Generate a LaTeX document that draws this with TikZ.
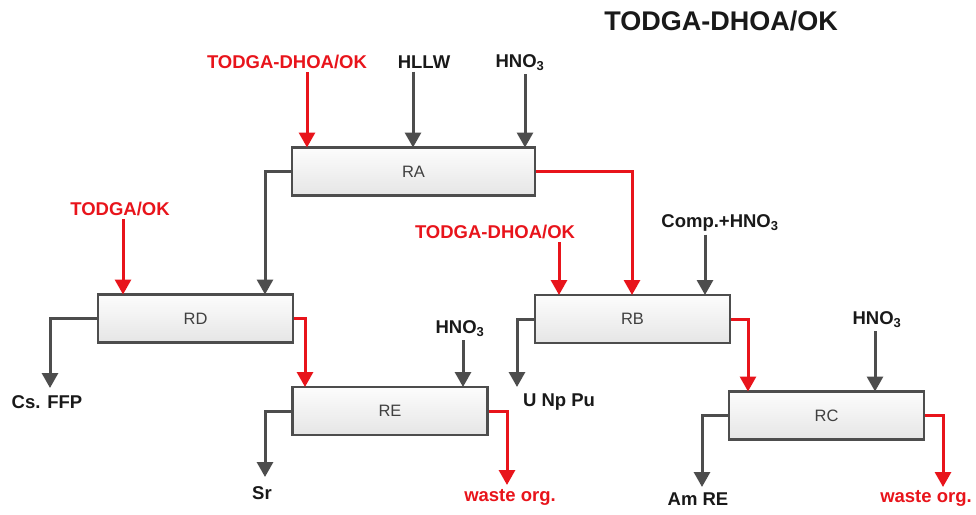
\documentclass[tikz,border=0pt]{standalone}
\usepackage{fontspec}
\setmainfont{Liberation Sans}
\usetikzlibrary{arrows.meta}

\definecolor{sotet}{HTML}{4D4D4D}
\definecolor{piros}{HTML}{E8141B}
\newcommand{\hno}{HNO\textsubscript{3}}

\tikzset{
  reactor/.style={draw=sotet, line width=2.8pt, top color=gray!2, bottom color=gray!20,
    minimum width=195pt, minimum height=48pt, font=\fontsize{16.5}{17}\selectfont, text=black!75},
  feed/.style={draw=sotet, line width=3pt, -{Triangle[length=15pt,width=16pt]}},
  feedred/.style={feed, draw=piros},
  lab/.style={font=\bfseries\fontsize{18.5}{20}\selectfont, text=black!90, inner sep=3pt},
  labred/.style={lab, text=piros}
}

\begin{document}
\begin{tikzpicture}[x=1pt,y=-1pt]
\useasboundingbox (0,0) rectangle (976,514);

% cim
\node[lab, font=\bfseries\fontsize{27}{30}\selectfont] (title) at (721,21) {TODGA-DHOA/OK};

% dobozok
\node[reactor, minimum width=243pt] (RA) at (413.5,171.5) {RA};
\node[reactor] (RD) at (195.5,318.5) {RD};
\node[reactor] (RE) at (390,411) {RE};
\node[reactor] (RB) at (632.5,319) {RB};
\node[reactor] (RC) at (826.5,415.5) {RC};

% bemenetek
\node[labred] (fRA1) at (287,62) {TODGA-DHOA/OK};
\node[lab] (fRA2) at (424,62) {HLLW};
\node[lab] (fRA3) at (520,63) {\hno};
\node[labred] (fRD) at (120,209) {TODGA/OK};
\node[lab] (fRE) at (460,329) {\hno};
\node[labred] (fRB1) at (495,232) {TODGA-DHOA/OK};
\node[lab] (fRB2) at (720,223) {Comp.+\hno};
\node[lab] (fRC) at (877,320) {\hno};

\coordinate (RA1) at (307,147.5);
\coordinate (RA2) at (413,147.5);
\coordinate (RA3) at (525,147.5);
\coordinate (RD1) at (123,294.5);
\coordinate (RD2) at (265,294.5);
\coordinate (RE1) at (305,387);
\coordinate (RE2) at (463,387);
\coordinate (RB1) at (559,295);
\coordinate (RB2) at (632,295);
\coordinate (RB3) at (705,295);
\coordinate (RC1) at (748,391.5);
\coordinate (RC2) at (875,391.5);

\draw[feedred] (fRA1.south -| RA1) -- (RA1);
\draw[feed] (fRA2.south -| RA2) -- (RA2);
\draw[feed] (fRA3.south -| RA3) -- (RA3);
\draw[feedred] (fRD.south -| RD1) -- (RD1);
\draw[feed] (fRE.south -| RE2) -- (RE2);
\draw[feedred] (fRB1.south -| RB1) -- (RB1);
\draw[feed] (fRB2.south -| RB3) -- (RB3);
\draw[feed] (fRC.south -| RC2) -- (RC2);

% dobozok kozott
\draw[feed] (RA.west) -| (RD2);
\draw[feedred] (RA.east) -| (RB2);
\draw[feedred] (RD.east) -| (RE1);
\draw[feedred] (RB.east) -| (RC1);

% kimenetek
\node[lab] (oRD) at (47,402) {Cs. FFP};
\node[lab] (oRE1) at (262,493) {Sr};
\node[labred] (oRE2) at (510,497) {waste org.};
\node[lab] (oRB) at (559,402) {U Np Pu};
\node[lab] (oRC1) at (698,499) {Am RE};
\node[labred] (oRC2) at (926,498) {waste org.};

\coordinate (kRD) at (50,388);
\coordinate (kRE1) at (265,477);
\coordinate (kRE2) at (507,485);
\coordinate (kRB) at (517,387);
\coordinate (kRC1) at (702,487);
\coordinate (kRC2) at (943,487);

\draw[feed] (RD.west) -| (kRD);
\draw[feed] (RE.west) -| (kRE1);
\draw[feedred] (RE.east) -| (kRE2);
\draw[feed] (RB.west) -| (kRB);
\draw[feed] (RC.west) -| (kRC1);
\draw[feedred] (RC.east) -| (kRC2);

\end{tikzpicture}
\end{document}
